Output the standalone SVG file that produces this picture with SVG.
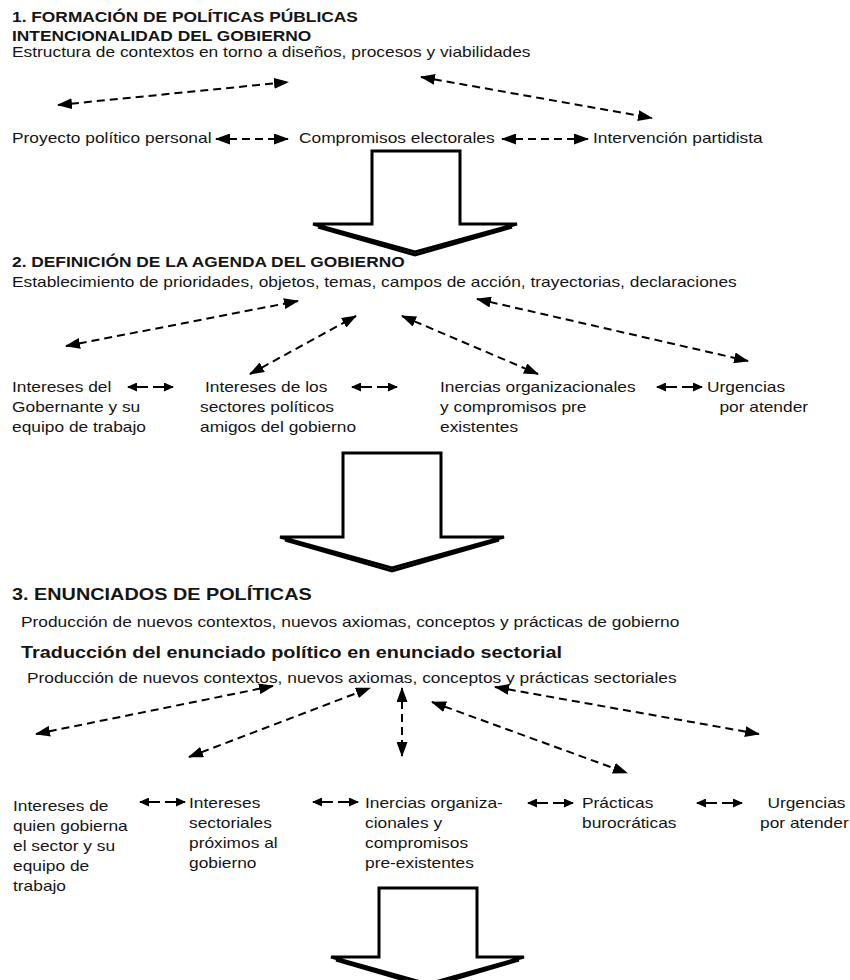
<svg xmlns="http://www.w3.org/2000/svg" width="850" height="980" viewBox="0 0 850 980">
<style>
.t{font-family:"Liberation Sans",Arial,sans-serif;font-size:14px;fill:#151515}
.b{font-weight:bold}
.l{font-size:16px}
.d{stroke:#000;stroke-width:2;stroke-dasharray:8 5;fill:none;marker-start:url(#ah);marker-end:url(#ah)}
.s{stroke:#000;stroke-width:2;fill:none;marker-end:url(#as)}
.big{fill:#fff;stroke:#000;stroke-width:3;stroke-linejoin:miter}
.sh{fill:none;stroke:#000;stroke-width:3}
</style>
<defs>
<marker id="ah" viewBox="0 0 15 11" refX="14" refY="5.5" markerWidth="15" markerHeight="11" markerUnits="userSpaceOnUse" orient="auto-start-reverse"><path d="M0,0 L15,5.5 L0,11 z" fill="#000"/></marker>
<marker id="as" viewBox="0 0 10 9" refX="9" refY="4.5" markerWidth="10" markerHeight="9" markerUnits="userSpaceOnUse" orient="auto"><path d="M0,0 L10,4.5 L0,9 z" fill="#000"/></marker>
</defs>
<rect width="850" height="980" fill="#fff"/>

<g id="sec1-header">
<text class="t b" transform="translate(12 22) scale(1.24 1)">1. FORMACIÓN DE POLÍTICAS PÚBLICAS</text>
<text class="t b" transform="translate(12 41) scale(1.24 1)">INTENCIONALIDAD DEL GOBIERNO</text>
<text class="t" transform="translate(12 57) scale(1.24 1)">Estructura de contextos en torno a diseños, procesos y viabilidades</text>
</g>
<g id="n-proyecto"><text class="t" transform="translate(12 143) scale(1.24 1)">Proyecto político personal</text></g>
<g id="n-compromisos"><text class="t" transform="translate(299 143) scale(1.24 1)">Compromisos electorales</text></g>
<g id="n-intervencion"><text class="t" transform="translate(593 143) scale(1.24 1)">Intervención partidista</text></g>

<g id="sec2-header">
<text class="t b" transform="translate(12 267) scale(1.24 1)">2. DEFINICIÓN DE LA AGENDA DEL GOBIERNO</text>
<text class="t" transform="translate(12 287) scale(1.24 1)">Establecimiento de prioridades, objetos, temas, campos de acción, trayectorias, declaraciones</text>
</g>
<g id="n-gobernante"><text class="t" transform="translate(12 392) scale(1.24 1)"><tspan x="0" y="0">Intereses del</tspan><tspan x="0" y="20">Gobernante y su</tspan><tspan x="0" y="40">equipo de trabajo</tspan></text></g>
<g id="n-sectores"><text class="t" transform="translate(200 392) scale(1.24 1)"><tspan x="4" y="0">Intereses de los</tspan><tspan x="0" y="20">sectores políticos</tspan><tspan x="0" y="40">amigos del gobierno</tspan></text></g>
<g id="n-inercias2"><text class="t" transform="translate(440 392) scale(1.24 1)"><tspan x="0" y="0">Inercias organizacionales</tspan><tspan x="0" y="20">y compromisos pre</tspan><tspan x="0" y="40">existentes</tspan></text></g>
<g id="n-urgencias2"><text class="t" transform="translate(707 392) scale(1.24 1)"><tspan x="0" y="0">Urgencias</tspan><tspan x="10" y="20">por atender</tspan></text></g>

<g id="sec3-header">
<text class="t b l" transform="translate(12 600) scale(1.24 1)">3. ENUNCIADOS DE POLÍTICAS</text>
<text class="t" transform="translate(21 627) scale(1.24 1)">Producción de nuevos contextos, nuevos axiomas, conceptos y prácticas de gobierno</text>
<text class="t b l" transform="translate(21 658) scale(1.24 1)">Traducción del enunciado político en enunciado sectorial</text>
<text class="t" transform="translate(27 683) scale(1.24 1)">Producción de nuevos contextos, nuevos axiomas, conceptos y prácticas sectoriales</text>
</g>
<g id="n-quien"><text class="t" transform="translate(13 811) scale(1.24 1)"><tspan x="0" y="0">Intereses de</tspan><tspan x="0" y="20">quien gobierna</tspan><tspan x="0" y="40">el sector y su</tspan><tspan x="0" y="60">equipo de</tspan><tspan x="0" y="80">trabajo</tspan></text></g>
<g id="n-sectoriales"><text class="t" transform="translate(189 808) scale(1.24 1)"><tspan x="0" y="0">Intereses</tspan><tspan x="0" y="20">sectoriales</tspan><tspan x="0" y="40">próximos al</tspan><tspan x="0" y="60">gobierno</tspan></text></g>
<g id="n-inercias3"><text class="t" transform="translate(365 808) scale(1.24 1)"><tspan x="0" y="0">Inercias organiza-</tspan><tspan x="0" y="20">cionales y</tspan><tspan x="0" y="40">compromisos</tspan><tspan x="0" y="60">pre-existentes</tspan></text></g>
<g id="n-practicas"><text class="t" transform="translate(582 808) scale(1.24 1)"><tspan x="0" y="0">Prácticas</tspan><tspan x="0" y="20">burocráticas</tspan></text></g>
<g id="n-urgencias3"><text class="t" transform="translate(760 808) scale(1.24 1)"><tspan x="6" y="0">Urgencias</tspan><tspan x="0" y="20">por atender</tspan></text></g>

<g id="connectors">
<line class="d" x1="58" y1="105" x2="288" y2="82"/>
<line class="d" x1="421" y1="77" x2="652" y2="118"/>
<line class="d" x1="216" y1="139" x2="288" y2="139"/>
<line class="d" x1="502" y1="139" x2="588" y2="139"/>

<line class="d" x1="66" y1="346" x2="298" y2="301"/>
<line class="d" x1="250" y1="374" x2="356" y2="316"/>
<line class="d" x1="402" y1="316" x2="538" y2="374"/>
<line class="d" x1="477" y1="299" x2="748" y2="361"/>
<line class="s" x1="148" y1="387" x2="128" y2="387"/><line class="s" x1="153" y1="387" x2="173" y2="387"/>
<line class="s" x1="372" y1="387" x2="352" y2="387"/><line class="s" x1="377" y1="387" x2="397" y2="387"/>
<line class="s" x1="677" y1="387" x2="657" y2="387"/><line class="s" x1="682" y1="387" x2="702" y2="387"/>

<line class="d" x1="36" y1="734" x2="273" y2="686"/>
<line class="d" x1="189" y1="757" x2="370" y2="688"/>
<line class="d" x1="402" y1="688" x2="402" y2="756"/>
<line class="d" x1="432" y1="702" x2="627" y2="773"/>
<line class="d" x1="495" y1="687" x2="759" y2="734"/>
<line class="s" x1="160" y1="802" x2="140" y2="802"/><line class="s" x1="165" y1="802" x2="185" y2="802"/>
<line class="s" x1="333" y1="802" x2="313" y2="802"/><line class="s" x1="338" y1="802" x2="358" y2="802"/>
<line class="s" x1="548" y1="803" x2="528" y2="803"/><line class="s" x1="553" y1="803" x2="573" y2="803"/>
<line class="s" x1="717" y1="803" x2="697" y2="803"/><line class="s" x1="722" y1="803" x2="742" y2="803"/>

<g id="block-arrows">
<polygon class="big" points="372,151 460,151 460,224 517,224 415,252 313,224 372,224"/>
<polyline class="sh" points="318,227 415,255 512,227"/>
<polygon class="big" points="343,453 441,453 441,537 504,537 392,568 280,537 343,537"/>
<polyline class="sh" points="285,540 392,571 499,540"/>
<polygon class="big" points="379,888 477,888 477,957 524,957 428,984 331,957 379,957"/>
<polyline class="sh" points="336,960 428,987 519,960"/>
</g>
</g>
</svg>
